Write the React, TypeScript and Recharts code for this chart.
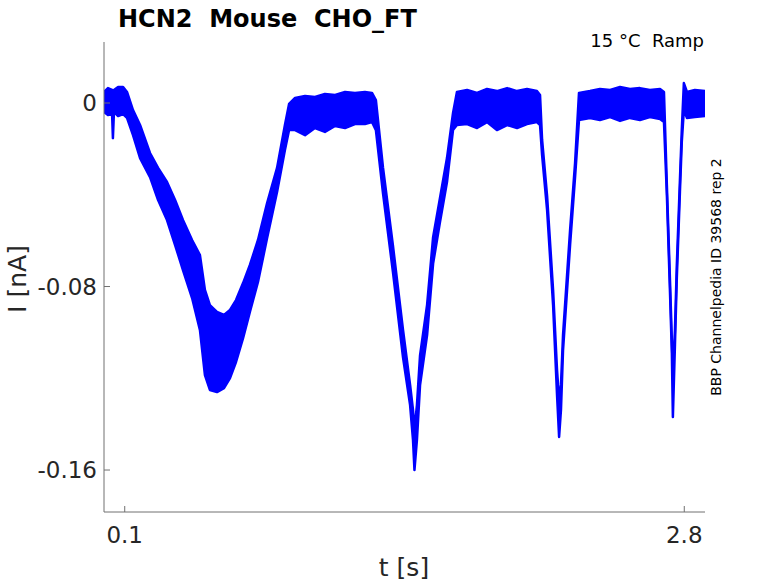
import React from 'react';
import { ComposedChart, Area, XAxis, YAxis } from 'recharts';

// sweep envelope: time [s], lower and upper current [nA]
const times = [
  0.0, 0.019, 0.039, 0.043, 0.048, 0.068, 0.092, 0.111, 0.14, 0.174,
  0.222, 0.261, 0.304, 0.343, 0.381, 0.425, 0.463, 0.487, 0.511, 0.545,
  0.579, 0.608, 0.637, 0.671, 0.704, 0.743, 0.787, 0.835, 0.873, 0.893,
  0.922, 0.97, 1.018, 1.066, 1.115, 1.163, 1.211, 1.259, 1.293, 1.312,
  1.346, 1.394, 1.443, 1.477, 1.491, 1.498, 1.51, 1.525, 1.559, 1.588,
  1.621, 1.655, 1.684, 1.703, 1.752, 1.8, 1.848, 1.896, 1.945, 1.993,
  2.041, 2.089, 2.104, 2.114, 2.138, 2.167, 2.186, 2.196, 2.205, 2.215,
  2.249, 2.273, 2.292, 2.345, 2.393, 2.442, 2.49, 2.538, 2.586, 2.634,
  2.683, 2.702, 2.716, 2.731, 2.74, 2.745, 2.755, 2.764, 2.779, 2.788,
  2.798, 2.813, 2.851, 2.9,
];
const lower = [
  -0.0039, -0.0052, -0.0048, -0.0153, -0.0039, -0.0057, -0.0048, -0.0065, -0.014, -0.024,
  -0.0323, -0.0423, -0.051, -0.0619, -0.0728, -0.085, -0.099, -0.1186, -0.1251, -0.126,
  -0.1243, -0.1199, -0.1129, -0.1025, -0.0911, -0.078, -0.0589, -0.0388, -0.0205, -0.0118,
  -0.0118, -0.014, -0.0109, -0.0126, -0.01, -0.0109, -0.0092, -0.0092, -0.0083, -0.0118,
  -0.0392, -0.0735, -0.111, -0.1317, -0.1469, -0.16, -0.1469, -0.123, -0.1012, -0.07,
  -0.052, -0.0345, -0.0118, -0.0096, -0.0092, -0.0109, -0.0083, -0.0118, -0.0096, -0.0109,
  -0.0092, -0.0083, -0.0096, -0.0227, -0.0466, -0.0881, -0.1273, -0.1456, -0.1338, -0.1077,
  -0.0619, -0.0323, -0.0074, -0.0065, -0.0074, -0.0061, -0.0078, -0.0065, -0.0074, -0.0061,
  -0.007, -0.0083, -0.0401, -0.0824, -0.1086, -0.1369, -0.1055, -0.0763, -0.0388, -0.017,
  -0.0031, -0.0065, -0.0061, -0.0057,
];
const upper = [
  0.0048, 0.0065, 0.0057, 0.0039, 0.0057, 0.007, 0.007, 0.0048, -0.0031, -0.0096,
  -0.0218, -0.0283, -0.0344, -0.0423, -0.051, -0.0597, -0.0663, -0.0815, -0.0881, -0.0911,
  -0.0924, -0.0902, -0.0859, -0.0785, -0.0706, -0.0597, -0.0436, -0.0283, -0.0096, -0.0004,
  0.0022, 0.0031, 0.0026, 0.0039, 0.0035, 0.0048, 0.0044, 0.0048, 0.0044, 0.0013,
  -0.028, -0.062, -0.099, -0.1229, -0.1338, -0.1426, -0.1317, -0.11, -0.088, -0.0585,
  -0.0415, -0.024, -0.0044, 0.0048, 0.0057, 0.0044, 0.0061, 0.0052, 0.0065, 0.0052,
  0.0061, 0.0052, 0.0035, -0.0161, -0.0405, -0.0815, -0.1164, -0.1295, -0.1229, -0.1011,
  -0.0554, -0.0262, 0.0044, 0.0052, 0.0061, 0.0057, 0.007, 0.0061, 0.0065, 0.0057,
  0.0061, 0.0048, -0.0358, -0.0772, -0.1033, -0.1186, -0.099, -0.0706, -0.0336, -0.0118,
  0.0087, 0.0048, 0.0057, 0.0052,
];

const xTicks = [0.1, 2.8];
const yTicks = [-0.16, -0.08, 0];

const rows = times.map((t, i) => ({ t, band: [lower[i], upper[i]] }));

const AXIS = '#707070';
const TEXT = '#262626';
const FONT = '"DejaVu Sans", sans-serif';

const XTick = (props: any) => {
  const { x, y, payload } = props;
  return (
    <g>
      <line x1={x} y1={y} x2={x} y2={y - 6} stroke={AXIS} />
      <text x={x} y={y + 31} textAnchor="middle" fill={TEXT} fontSize={23} fontFamily={FONT}>
        {String(payload.value)}
      </text>
    </g>
  );
};

const YTick = (props: any) => {
  const { x, y, payload } = props;
  return (
    <g>
      <line x1={x} y1={y} x2={x + 6} y2={y} stroke={AXIS} />
      <text x={x - 7} y={y + 8} textAnchor="end" fill={TEXT} fontSize={23} fontFamily={FONT}>
        {String(payload.value)}
      </text>
    </g>
  );
};

export default function App() {
  return (
    <div style={{ position: 'absolute', left: 0, top: 0, width: 778, height: 583, background: '#fff' }}>
      <ComposedChart
        width={778}
        height={583}
        data={rows}
        margin={{ top: 42, right: 73, bottom: 31, left: 44 }}
      >
        <XAxis
          dataKey="t"
          type="number"
          domain={[0, 2.9]}
          ticks={xTicks}
          allowDataOverflow
          height={40}
          tickSize={0}
          tickMargin={0}
          tickLine={false}
          axisLine={{ stroke: AXIS }}
          tick={<XTick />}
        />
        <YAxis
          type="number"
          domain={[-0.1783, 0.0266]}
          ticks={yTicks}
          allowDataOverflow
          width={60}
          tickSize={0}
          tickMargin={0}
          tickLine={false}
          axisLine={{ stroke: AXIS }}
          tick={<YTick />}
        />
        <Area
          dataKey="band"
          type="linear"
          stroke="#0000ff"
          strokeWidth={2.5}
          strokeLinejoin="round"
          fill="#0000ff"
          fillOpacity={1}
          dot={false}
          activeDot={false}
          isAnimationActive={false}
        />
      </ComposedChart>
      <svg
        width={778}
        height={583}
        style={{ position: 'absolute', left: 0, top: 0, pointerEvents: 'none' }}
      >
        <text x={118} y={27} fontSize={24} fontWeight="bold" fill="#000" fontFamily={FONT} style={{ whiteSpace: 'pre' }}>
          HCN2  Mouse  CHO_FT
        </text>
        <text x={704} y={47} fontSize={18} textAnchor="end" fill="#000" fontFamily={FONT} style={{ whiteSpace: 'pre' }}>
          15 °C  Ramp
        </text>
        <text x={404} y={576} fontSize={25} textAnchor="middle" fill={TEXT} fontFamily={FONT}>
          t [s]
        </text>
        <text
          x={17}
          y={279}
          fontSize={25}
          textAnchor="middle"
          fill={TEXT}
          fontFamily={FONT}
          transform="rotate(-90 17 279)"
          dominantBaseline="central"
        >
          I [nA]
        </text>
        <text
          x={716}
          y={277}
          fontSize={14}
          textAnchor="middle"
          fill="#000"
          fontFamily={FONT}
          transform="rotate(-90 716 277)"
          dominantBaseline="central"
        >
          BBP Channelpedia ID 39568 rep 2
        </text>
      </svg>
    </div>
  );
}
